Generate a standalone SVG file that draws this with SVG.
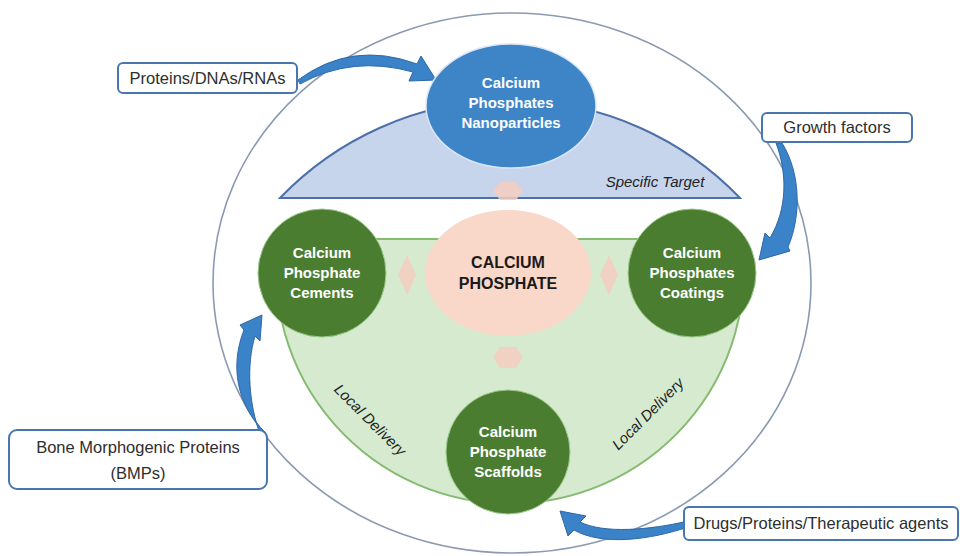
<svg xmlns="http://www.w3.org/2000/svg" width="960" height="556" viewBox="0 0 960 556">
<style>
.lbl{font-family:"Liberation Sans",Arial,sans-serif;font-size:16.5px;fill:#2e2e2e;text-anchor:middle}
.nd{font-family:"Liberation Sans",Arial,sans-serif;font-size:15px;font-weight:bold;fill:#ffffff;text-anchor:middle}
.ctr{font-family:"Liberation Sans",Arial,sans-serif;font-size:16px;font-weight:bold;fill:#1a1a1a;text-anchor:middle}
.it{font-family:"Liberation Sans",Arial,sans-serif;font-size:15px;font-style:italic;fill:#222222;text-anchor:middle}
.box{fill:#ffffff;stroke:#4a76b0;stroke-width:2}
.gc{fill:#4b7d31;stroke:#9cc98a;stroke-width:1}
.arw{fill:#3b83c8;stroke:#2d67a6;stroke-width:1}
.pk{fill:#f5cdbf;opacity:0.85}
</style>
<rect x="0" y="0" width="960" height="556" fill="#ffffff"/>
<g id="regions">
<ellipse cx="512" cy="283" rx="299" ry="270" fill="#ffffff" stroke="#8a9ab3" stroke-width="1.6"/>
<path d="M280,198 A319,319 0 0 1 740,198 Z" fill="#c7d5ec" stroke="#4d70a8" stroke-width="2"/>
<text class="it" x="655" y="187">Specific Target</text>
<path d="M278,239 L742,239 A234,234 0 1 1 278,239 Z" fill="#d6eacf" stroke="#86bb72" stroke-width="2"/>
<text class="it" transform="translate(370,420) rotate(45)" x="0" y="5">Local Delivery</text>
<text class="it" transform="translate(648,414) rotate(-45)" x="0" y="5">Local Delivery</text>
</g>
<g id="connectors">
<polygon class="pk" points="500,182 516,182 523,191 516,200 500,200 493,191"/>
<polygon class="pk" points="407,255 416,275 407,295 398,275"/>
<polygon class="pk" points="609,255 618,275 609,295 600,275"/>
<polygon class="pk" points="500,347 516,347 523,357 516,368 500,368 493,357"/>
<path class="arw" d="M298,80 Q352,40 417,64 L421,56 L436,80 L409,81 L413,72 Q352,55 300,84 Z"/>
<path class="arw" d="M782,143 C800,172 802,214 788,247 L790,251 L759,260 L765,233 L770,238 C788,208 787,172 776,143 Z"/>
<path class="arw" d="M266,433 C236,405 230,365 244,330 L240,325 L262,315 L260,341 L255,336 C246,366 249,404 260,434 Z"/>
<path class="arw" d="M688,527 C650,540 602,546 574,530 L568,536 L560,511 L586,516 L580,522 C604,534 650,530 688,521 Z"/>
</g>
<g id="node-center">
<ellipse cx="508" cy="273" rx="83" ry="63" fill="#f9d7c9"/>
<text class="ctr" x="508" y="268">CALCIUM</text>
<text class="ctr" x="508" y="289">PHOSPHATE</text>
</g>
<g id="node-nanoparticles">
<ellipse cx="511" cy="106" rx="85" ry="62" fill="#3e85c8" stroke="#dbe6f5" stroke-width="1.5"/>
<text class="nd" x="511" y="88">Calcium</text>
<text class="nd" x="511" y="108">Phosphates</text>
<text class="nd" x="511" y="128">Nanoparticles</text>
</g>
<g id="node-cements">
<circle class="gc" cx="322" cy="273" r="64"/>
<text class="nd" x="322" y="258">Calcium</text>
<text class="nd" x="322" y="278">Phosphate</text>
<text class="nd" x="322" y="298">Cements</text>
</g>
<g id="node-coatings">
<circle class="gc" cx="692" cy="273" r="64"/>
<text class="nd" x="692" y="258">Calcium</text>
<text class="nd" x="692" y="278">Phosphates</text>
<text class="nd" x="692" y="298">Coatings</text>
</g>
<g id="node-scaffolds">
<circle class="gc" cx="508" cy="452" r="62"/>
<text class="nd" x="508" y="437">Calcium</text>
<text class="nd" x="508" y="457">Phosphate</text>
<text class="nd" x="508" y="477">Scaffolds</text>
</g>
<g id="node-proteins">
<rect class="box" x="118" y="63" width="179" height="30" rx="5"/>
<text class="lbl" x="207.5" y="84">Proteins/DNAs/RNAs</text>
</g>
<g id="node-growth">
<rect class="box" x="762" y="113" width="150" height="29" rx="5"/>
<text class="lbl" x="837" y="133">Growth factors</text>
</g>
<g id="node-bmp">
<rect class="box" x="9" y="430" width="258" height="59" rx="8"/>
<text class="lbl" x="138" y="453">Bone Morphogenic Proteins</text>
<text class="lbl" x="138" y="479">(BMPs)</text>
</g>
<g id="node-drugs">
<rect class="box" x="684" y="507" width="274" height="33" rx="5"/>
<text class="lbl" x="821" y="529">Drugs/Proteins/Therapeutic agents</text>
</g>
</svg>
